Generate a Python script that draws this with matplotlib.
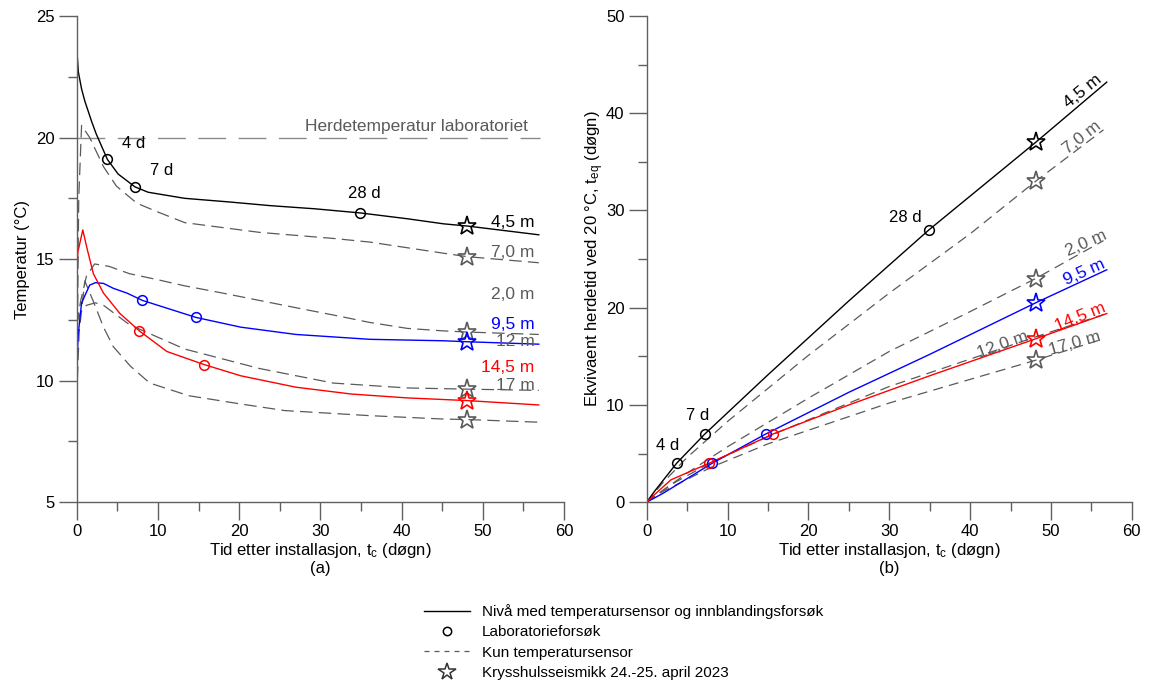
import numpy as np
import matplotlib.pyplot as plt
from matplotlib.lines import Line2D

plt.rcParams['font.family'] = ['Liberation Sans', 'DejaVu Sans']
plt.rcParams['mathtext.default'] = 'regular'

GRAY = '#5a5a5a'
SPINE = '#606060'

# ---------- (a) temperatur ----------
t_45 = [0, 0.2, 0.6, 1.0, 1.5, 1.85, 2.4, 3.78, 5.1, 7.18, 8.8, 13.3, 18.8, 23.8, 29.3, 34.9, 40.7, 45.2, 48.1, 56.9]
T_45 = [23.7, 22.7, 22.0, 21.5, 21.0, 20.65, 20.15, 19.1, 18.5, 17.97, 17.75, 17.5, 17.35, 17.2, 17.07, 16.9, 16.66, 16.45, 16.36, 16.0]

t_95 = [0, 0.2, 0.6, 1.6, 2.3, 3.3, 4.5, 6.2, 8.1, 14.7, 20.2, 27, 36.1, 45.2, 48.1, 56.9]
T_95 = [10.6, 11.95, 13.2, 13.93, 14.03, 14.0, 13.8, 13.6, 13.3, 12.6, 12.2, 11.9, 11.7, 11.64, 11.6, 11.5]

t_145 = [0, 0.15, 0.75, 1.3, 2.05, 3.3, 5.3, 7.7, 11.1, 15.7, 20.2, 27, 33.8, 40.7, 48.1, 56.9]
T_145 = [14.5, 15.3, 16.2, 15.4, 14.4, 13.6, 12.77, 12.05, 11.2, 10.66, 10.2, 9.73, 9.45, 9.29, 9.18, 9.0]

t_70 = [0, 0.25, 0.6, 1.6, 3.3, 4.9, 7.4, 9.9, 13.3, 22.5, 31.6, 36.1, 45.0, 48.1, 56.9]
T_70 = [9.2, 17.5, 20.5, 20.0, 18.8, 18.0, 17.3, 16.95, 16.5, 16.1, 15.85, 15.7, 15.25, 15.1, 14.85]

t_20 = [0, 0.5, 1.2, 2.2, 4, 6.5, 10, 13.3, 18, 22.5, 27, 31.6, 36, 40.7, 45, 48.1, 56.9]
T_20 = [12.3, 13.3, 14.3, 14.8, 14.7, 14.4, 14.15, 13.9, 13.6, 13.3, 13.0, 12.7, 12.4, 12.15, 12.05, 12.0, 11.9]

t_12 = [0, 0.5, 1.2, 2.3, 3.3, 6.5, 13.3, 22.5, 31.6, 40.7, 48.1, 56.9]
T_12 = [12.4, 12.8, 13.1, 13.2, 13.1, 12.3, 11.3, 10.5, 9.9, 9.7, 9.65, 9.6]

t_17 = [0, 0.3, 1.0, 2.0, 3.3, 4.5, 6.6, 9.0, 13.8, 20.2, 25.6, 36.1, 45.2, 48.1, 56.9]
T_17 = [9.3, 12.0, 14.1, 13.3, 12.2, 11.4, 10.6, 9.9, 9.38, 9.04, 8.77, 8.56, 8.42, 8.4, 8.29]

lab_t_45 = [3.78, 7.18, 34.9]
lab_T_45 = [19.1, 17.97, 16.9]
lab_t_95 = [8.1, 14.7]
lab_T_95 = [13.3, 12.6]
lab_t_145 = [7.7, 15.7]
lab_T_145 = [12.05, 10.66]

t_star = 48.1
star_T = {'4.5': 16.36, '7.0': 15.1, '2.0': 12.0, '9.5': 11.6, '12': 9.66, '14.5': 9.18, '17': 8.4}

# ---------- (b) ekvivalent herdetid ----------
te_t_45 = [0, 1, 3.7, 7.18, 15, 25, 34.9, 48.1, 56.9]
te_45 = [0, 1.15, 4.0, 7.0, 13.1, 20.7, 28.0, 37.0, 43.2]
te_t_95 = [0, 2, 8.1, 14.7, 25, 35, 48.1, 56.9]
te_95 = [0, 0.9, 4.0, 7.0, 11.3, 15.2, 20.5, 23.9]
te_t_145 = [0, 1, 3, 7.7, 15.6, 25, 35, 48.1, 56.9]
te_145 = [0, 0.8, 2.3, 4.0, 7.0, 10.0, 13.0, 16.8, 19.4]
te_t_70 = [0, 2, 5, 10, 20, 30, 40, 48.1, 56.5]
te_70 = [0, 2.0, 4.6, 8.3, 15.1, 21.5, 27.6, 33.0, 38.3]
te_t_20 = [0, 2, 5, 10, 20, 30, 40, 48.1, 56.5]
te_20 = [0, 1.2, 3.0, 5.7, 10.7, 15.5, 19.6, 23.0, 26.9]
te_t_12 = [0, 3, 8, 15.7, 30, 48.1, 56.5]
te_12 = [0, 1.8, 4.1, 7.0, 11.9, 17.0, 19.3]
te_t_17 = [0, 2, 8, 15, 30, 48.1, 56.5]
te_17 = [0, 1.1, 3.6, 6.0, 10.2, 14.6, 16.8]

te_star = {'4.5': 37.0, '7.0': 33.0, '2.0': 23.0, '9.5': 20.5, '14.5': 16.8, '17': 14.6}

fig = plt.figure(figsize=(11.5, 6.87), dpi=100)
ax1 = fig.add_axes([0.0667, 0.269, 0.4237, 0.7077])
ax2 = fig.add_axes([0.5623, 0.269, 0.4219, 0.7077])

lw_s = 1.0
dash_l = (10, 5)
dash_r = (8, 5)


def style_axis(ax, ymin, ymax, ymaj, ymin_step):
    ax.set_xlim(0, 60)
    ax.set_ylim(ymin, ymax)
    ax.set_xticks(np.arange(0, 61, 10))
    ax.set_xticks(np.arange(0, 61, 5), minor=True)
    ax.set_yticks(np.arange(ymin, ymax + 0.1, ymaj))
    ax.set_yticks(np.arange(ymin, ymax + 0.1, ymin_step), minor=True)
    for s in ['top', 'right']:
        ax.spines[s].set_visible(False)
    for s in ['left', 'bottom']:
        ax.spines[s].set_color(SPINE)
        ax.spines[s].set_linewidth(1.0)
    ax.tick_params(which='major', length=13, width=1.0, color=SPINE, labelsize=12, pad=3)
    ax.tick_params(which='minor', length=6.5, width=1.0, color=SPINE)


style_axis(ax1, 5, 25, 5, 2.5)
style_axis(ax2, 0, 50, 10, 5)

# panel a
ax1.axhline(20, color='#8a8a8a', lw=1.0, dashes=(20, 9), xmax=57 / 60)
ax1.text(41.8, 20.45, 'Herdetemperatur laboratoriet', ha='center', va='center', fontsize=12.5, color=GRAY)

for t, T in [(t_70, T_70), (t_20, T_20), (t_12, T_12), (t_17, T_17)]:
    ax1.plot(t, T, color=GRAY, lw=0.9, dashes=dash_l)
ax1.plot(t_45, T_45, color='black', lw=lw_s)
ax1.plot(t_95, T_95, color='blue', lw=lw_s)
ax1.plot(t_145, T_145, color='red', lw=lw_s)

ax1.plot(lab_t_45, lab_T_45, 'o', mfc='none', mec='black', ms=7, mew=1.1)
ax1.plot(lab_t_95, lab_T_95, 'o', mfc='none', mec='blue', ms=7, mew=1.1)
ax1.plot(lab_t_145, lab_T_145, 'o', mfc='none', mec='red', ms=7, mew=1.1)

star_col = {'4.5': 'black', '7.0': GRAY, '2.0': GRAY, '9.5': 'blue', '12': GRAY, '14.5': 'red', '17': GRAY}
for k, v in star_T.items():
    ax1.plot([t_star], [v], '*', mfc='none', mec=star_col[k], ms=14, mew=1.2)

ax1.text(7.0, 19.75, '4 d', ha='center', va='center', fontsize=12)
ax1.text(10.5, 18.64, '7 d', ha='center', va='center', fontsize=12)
ax1.text(35.4, 17.7, '28 d', ha='center', va='center', fontsize=12)

left_labels = [('4,5 m', 16.52, 'black'), ('7,0 m', 15.27, GRAY), ('2,0 m', 13.53, GRAY),
               ('9,5 m', 12.3, 'blue'), ('12 m', 11.6, GRAY), ('14,5 m', 10.55, 'red'), ('17 m', 9.8, GRAY)]
for txt, y, c in left_labels:
    ax1.text(56.4, y, txt, ha='right', va='center', fontsize=12.5, color=c)

ax1.set_ylabel('Temperatur (°C)', fontsize=12, labelpad=4)
ax1.set_xlabel('Tid etter installasjon, t$_{c}$ (døgn)', fontsize=12, labelpad=1)
ax1.text(0.5, -0.137, '(a)', transform=ax1.transAxes, ha='center', va='center', fontsize=12)

# panel b
for t, v in [(te_t_70, te_70), (te_t_20, te_20), (te_t_12, te_12), (te_t_17, te_17)]:
    ax2.plot(t, v, color=GRAY, lw=0.9, dashes=dash_r)
ax2.plot(te_t_45, te_45, color='black', lw=lw_s)
ax2.plot(te_t_95, te_95, color='blue', lw=lw_s)
ax2.plot(te_t_145, te_145, color='red', lw=lw_s)

ax2.plot([3.7, 7.18, 34.9], [4.0, 7.0, 28.0], 'o', mfc='none', mec='black', ms=7, mew=1.1)
ax2.plot(lab_t_95, [4.0, 7.0], 'o', mfc='none', mec='blue', ms=7, mew=1.1)
ax2.plot([7.7, 15.6], [4.0, 7.0], 'o', mfc='none', mec='red', ms=7, mew=1.1)

for k, v in te_star.items():
    ax2.plot([t_star], [v], '*', mfc='none', mec=star_col[k], ms=14, mew=1.2)

ax2.text(2.6, 5.8, '4 d', ha='center', va='center', fontsize=12)
ax2.text(6.3, 8.9, '7 d', ha='center', va='center', fontsize=12)
ax2.text(32.0, 29.3, '28 d', ha='center', va='center', fontsize=12)

right_labels = [('4,5 m', 53.9, 42.3, 39, 'black'), ('7,0 m', 53.9, 37.5, 38, GRAY),
                ('2,0 m', 54.3, 26.6, 24, GRAY), ('9,5 m', 54.1, 23.65, 24, 'blue'),
                ('14,5 m', 53.6, 19.0, 22, 'red'), ('12,0 m', 44.0, 16.2, 20, GRAY),
                ('17,0 m', 53.0, 16.3, 16, GRAY)]
for txt, x, y, rot, c in right_labels:
    ax2.text(x, y, txt, ha='center', va='center', rotation=rot, fontsize=12.5, color=c,
             rotation_mode='anchor')

ax2.set_ylabel('Ekvivaent herdetid ved 20 °C, t$_{eq}$ (døgn)', fontsize=12, labelpad=0)
ax2.set_xlabel('Tid etter installasjon, t$_{c}$ (døgn)', fontsize=12, labelpad=1)
ax2.text(0.5, -0.137, '(b)', transform=ax2.transAxes, ha='center', va='center', fontsize=12)

handles = [
    Line2D([], [], color='black', lw=1.0),
    Line2D([], [], ls='none', marker='o', mfc='none', mec='black', ms=6, mew=1.1),
    Line2D([], [], color=GRAY, lw=0.9, dashes=(4, 4)),
    Line2D([], [], ls='none', marker='*', mfc='none', mec='#333333', ms=13, mew=1.1),
]
labels = ['Nivå med temperatursensor og innblandingsforsøk', 'Laboratorieforsøk',
          'Kun temperatursensor', 'Krysshulsseismikk 24.-25. april 2023']
fig.legend(handles, labels, loc='upper left', bbox_to_anchor=(0.362, 0.132), frameon=False,
           fontsize=11, handlelength=3, handletextpad=0.8, labelspacing=0.42, borderpad=0)

fig.savefig('out.png', dpi=100)
